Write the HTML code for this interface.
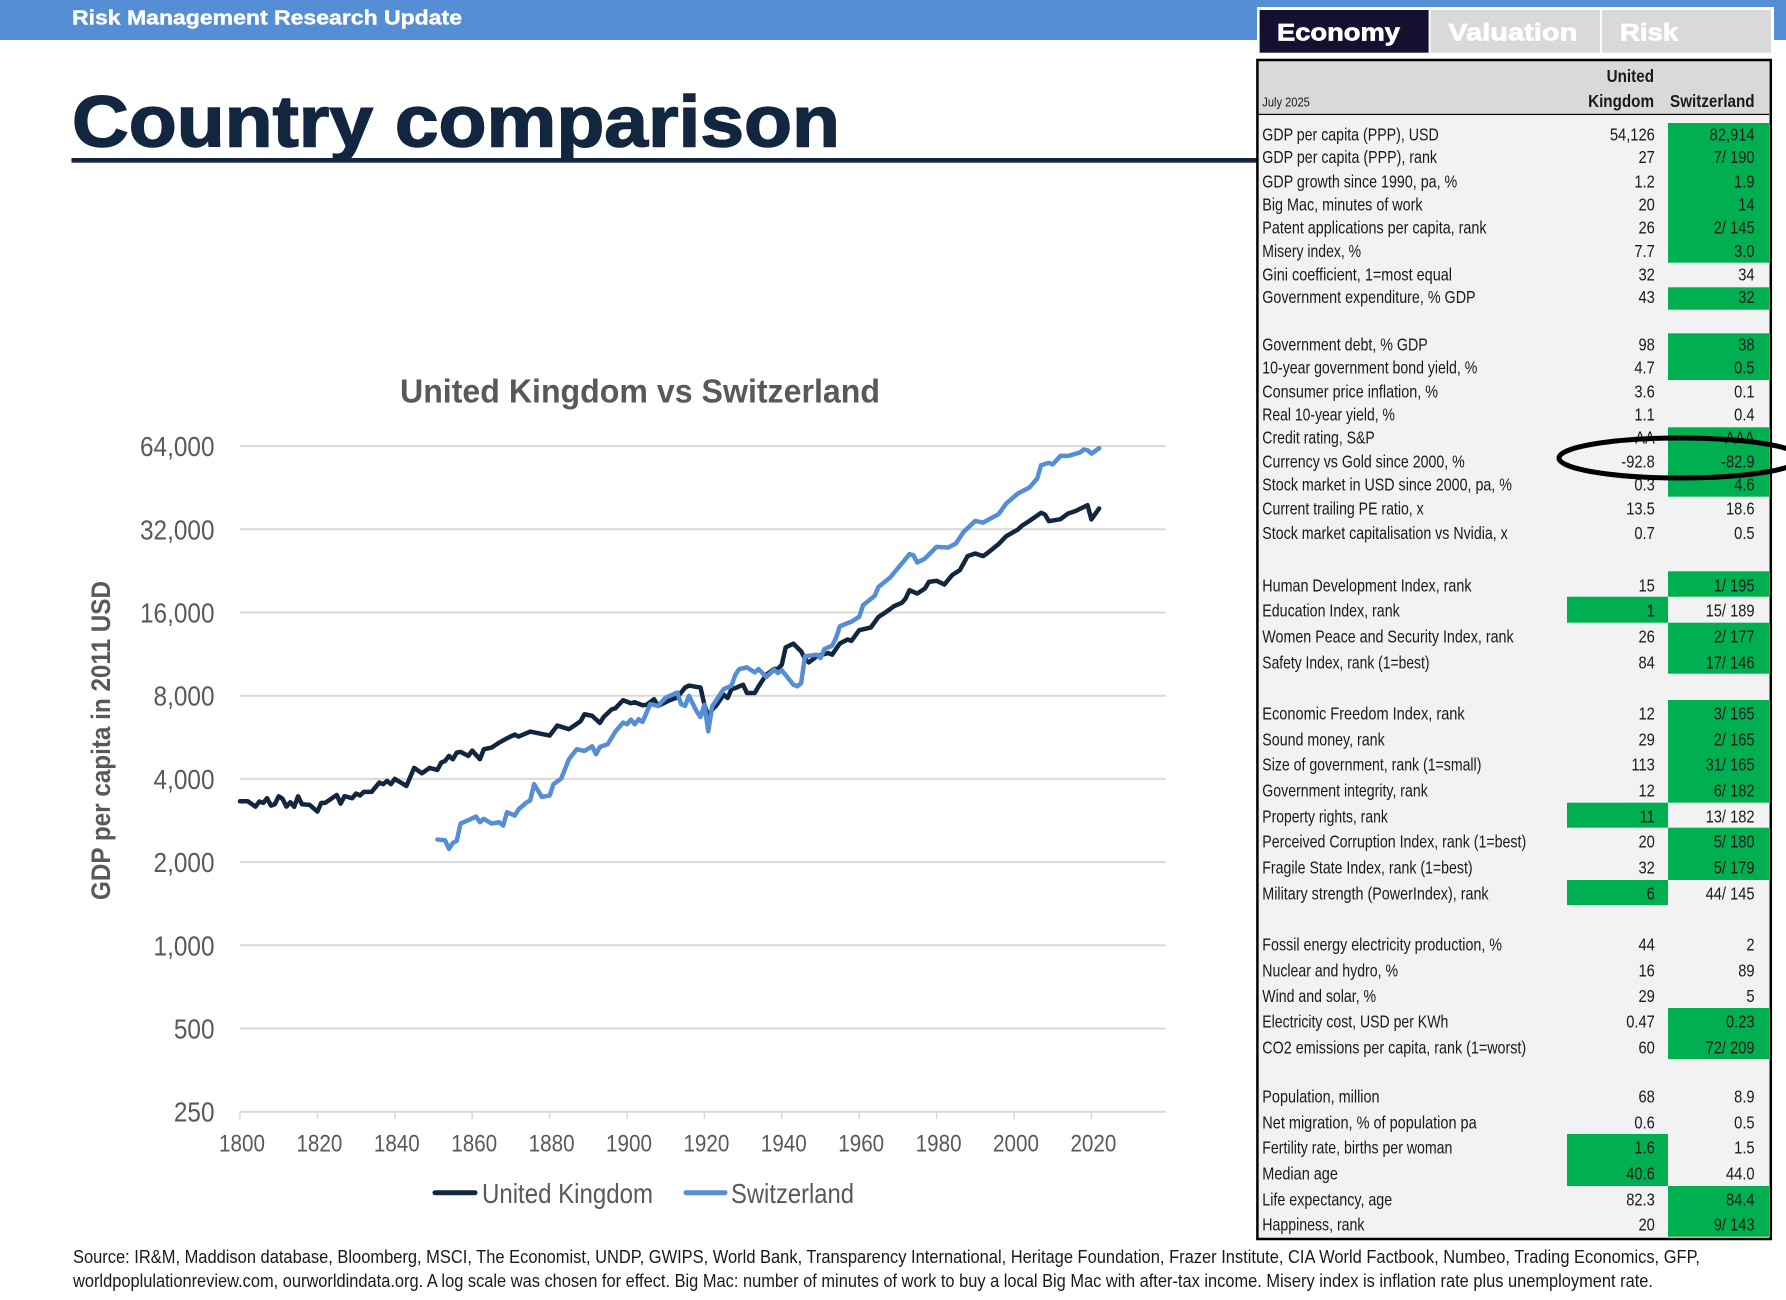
<!DOCTYPE html>
<html lang="en">
<head>
<meta charset="utf-8">
<title>Country comparison</title>
<style>
html,body{margin:0;padding:0;background:#fff;width:1786px;height:1300px;overflow:hidden}
svg{display:block;font-family:"Liberation Sans",Arial,sans-serif}
.lb,.v{font-size:17.5px;fill:#1a1a1a}
.ax{fill:#595959}
</style>
</head>
<body>
<svg id="page" xmlns="http://www.w3.org/2000/svg" width="1786" height="1300" viewBox="0 0 1786 1300">
<rect x="0" y="0" width="1786" height="40" fill="#558ed5"/>
<text x="72" y="24.5" font-size="20" font-weight="bold" fill="#fff" stroke="#fff" stroke-width=".4" textLength="390" lengthAdjust="spacingAndGlyphs">Risk Management Research Update</text>
<text x="72" y="146.5" font-size="72" font-weight="bold" fill="#12263f" stroke="#12263f" stroke-width="1.5" textLength="768" lengthAdjust="spacingAndGlyphs">Country comparison</text>
<rect x="71.5" y="158" width="1185.5" height="4.7" fill="#12263f"/>

<g id="chart">
<text x="400" y="402.7" font-size="33" font-weight="bold" fill="#595959" textLength="480" lengthAdjust="spacingAndGlyphs">United Kingdom vs Switzerland</text>
<text transform="translate(110,900) rotate(-90)" x="0" y="0" font-size="27" font-weight="bold" fill="#595959" textLength="319" lengthAdjust="spacingAndGlyphs">GDP per capita in 2011 USD</text>
<g id="grid"></g>
<g id="xaxis"></g>
<g id="yaxis"></g>
<g id="series"></g>
<g>
<line x1="435" y1="1192.7" x2="475" y2="1192.7" stroke="#12263f" stroke-width="5" stroke-linecap="round"/>
<text x="482" y="1203" font-size="28" class="ax" textLength="171" lengthAdjust="spacingAndGlyphs">United Kingdom</text>
<line x1="686" y1="1192.7" x2="725" y2="1192.7" stroke="#558ed5" stroke-width="5" stroke-linecap="round"/>
<text x="731" y="1203" font-size="28" class="ax" textLength="123" lengthAdjust="spacingAndGlyphs">Switzerland</text>
</g>
</g>

<g>
<rect x="1257" y="7" width="517" height="47.5" fill="#fff"/>
<rect x="1259.6" y="10" width="169" height="42.7" fill="#13112f"/>
<text x="1277" y="40.7" font-size="24" font-weight="bold" fill="#fff" stroke="#fff" stroke-width=".7" textLength="123" lengthAdjust="spacingAndGlyphs">Economy</text>
<rect x="1430.5" y="10" width="169.5" height="42.7" fill="#d9d9d9"/>
<text x="1448.3" y="40.7" font-size="24" font-weight="bold" fill="#fff" stroke="#fff" stroke-width=".7" textLength="129" lengthAdjust="spacingAndGlyphs">Valuation</text>
<rect x="1602" y="10" width="169" height="42.7" fill="#d9d9d9"/>
<text x="1620" y="40.7" font-size="24" font-weight="bold" fill="#fff" stroke="#fff" stroke-width=".7" textLength="58" lengthAdjust="spacingAndGlyphs">Risk</text>
</g>

<g>
<rect x="1257.4" y="60" width="513.4" height="1179" fill="#f2f2f2"/>
<rect x="1258" y="60" width="511" height="54" fill="#d9d9d9"/>
<rect x="1258" y="113.8" width="511" height="1.2" fill="#000"/>

<g fill="#00b050">
<rect x="1668" y="123" width="101" height="139.7"/>
<rect x="1668" y="287.3" width="101" height="22.4"/>
<rect x="1668" y="333.3" width="101" height="46.7"/>
<rect x="1668" y="427.3" width="101" height="69.4"/>
<rect x="1668" y="571.3" width="101" height="25.4"/>
<rect x="1567" y="596.7" width="101" height="26"/>
<rect x="1668" y="622.7" width="101" height="51"/>
<rect x="1668" y="700" width="101" height="102.7"/>
<rect x="1567" y="802.7" width="101" height="25"/>
<rect x="1668" y="827.7" width="101" height="52.3"/>
<rect x="1567" y="880" width="101" height="25"/>
<rect x="1668" y="1008" width="101" height="51"/>
<rect x="1567" y="1134" width="101" height="52"/>
<rect x="1668" y="1186" width="101" height="50.7"/>
</g>

<text x="1262.3" y="106.5" font-size="13" fill="#1a1a1a" textLength="47.5" lengthAdjust="spacingAndGlyphs">July 2025</text>
<text x="1654" y="82" font-size="17.5" font-weight="bold" fill="#1a1a1a" text-anchor="end" transform="translate(1654,0) scale(.87,1) translate(-1654,0)">United</text>
<text x="1654" y="107" font-size="17.5" font-weight="bold" fill="#1a1a1a" text-anchor="end" transform="translate(1654,0) scale(.87,1) translate(-1654,0)">Kingdom</text>
<text x="1754.6" y="107" font-size="17.5" font-weight="bold" fill="#1a1a1a" text-anchor="end" transform="translate(1754.6,0) scale(.87,1) translate(-1754.6,0)">Switzerland</text>

<g>
<text class="lb" x="1262.3" y="140.3" textLength="176.4" lengthAdjust="spacingAndGlyphs">GDP per capita (PPP), USD</text>
<text class="lb" x="1262.3" y="163" textLength="174.7" lengthAdjust="spacingAndGlyphs">GDP per capita (PPP), rank</text>
<text class="lb" x="1262.3" y="187.3" textLength="194.9" lengthAdjust="spacingAndGlyphs">GDP growth since 1990, pa, %</text>
<text class="lb" x="1262.3" y="210.3" textLength="160.3" lengthAdjust="spacingAndGlyphs">Big Mac, minutes of work</text>
<text class="lb" x="1262.3" y="233.6" textLength="224.3" lengthAdjust="spacingAndGlyphs">Patent applications per capita, rank</text>
<text class="lb" x="1262.3" y="257" textLength="98.8" lengthAdjust="spacingAndGlyphs">Misery index, %</text>
<text class="lb" x="1262.3" y="280.3" textLength="189.7" lengthAdjust="spacingAndGlyphs">Gini coefficient, 1=most equal</text>
<text class="lb" x="1262.3" y="303" textLength="213.3" lengthAdjust="spacingAndGlyphs">Government expenditure, % GDP</text>
<text class="lb" x="1262.3" y="350.3" textLength="165.5" lengthAdjust="spacingAndGlyphs">Government debt, % GDP</text>
<text class="lb" x="1262.3" y="373.6" textLength="215" lengthAdjust="spacingAndGlyphs">10-year government bond yield, %</text>
<text class="lb" x="1262.3" y="397.3" textLength="175.7" lengthAdjust="spacingAndGlyphs">Consumer price inflation, %</text>
<text class="lb" x="1262.3" y="420.6" textLength="132.6" lengthAdjust="spacingAndGlyphs">Real 10-year yield, %</text>
<text class="lb" x="1262.3" y="443.6" textLength="112.5" lengthAdjust="spacingAndGlyphs">Credit rating, S&amp;P</text>
<text class="lb" x="1262.3" y="467.3" textLength="202.4" lengthAdjust="spacingAndGlyphs">Currency vs Gold since 2000, %</text>
<text class="lb" x="1262.3" y="490.3" textLength="249.6" lengthAdjust="spacingAndGlyphs">Stock market in USD since 2000, pa, %</text>
<text class="lb" x="1262.3" y="514.6" textLength="161.4" lengthAdjust="spacingAndGlyphs">Current trailing PE ratio, x</text>
<text class="lb" x="1262.3" y="539" textLength="245.5" lengthAdjust="spacingAndGlyphs">Stock market capitalisation vs Nvidia, x</text>
<text class="lb" x="1262.3" y="591.3" textLength="209.2" lengthAdjust="spacingAndGlyphs">Human Development Index, rank</text>
<text class="lb" x="1262.3" y="616.3" textLength="137.4" lengthAdjust="spacingAndGlyphs">Education Index, rank</text>
<text class="lb" x="1262.3" y="642.3" textLength="251.3" lengthAdjust="spacingAndGlyphs">Women Peace and Security Index, rank</text>
<text class="lb" x="1262.3" y="668.3" textLength="167.2" lengthAdjust="spacingAndGlyphs">Safety Index, rank (1=best)</text>
<text class="lb" x="1262.3" y="719.6" textLength="202.4" lengthAdjust="spacingAndGlyphs">Economic Freedom Index, rank</text>
<text class="lb" x="1262.3" y="745.3" textLength="122.4" lengthAdjust="spacingAndGlyphs">Sound money, rank</text>
<text class="lb" x="1262.3" y="770.6" textLength="219.1" lengthAdjust="spacingAndGlyphs">Size of government, rank (1=small)</text>
<text class="lb" x="1262.3" y="796.3" textLength="165.5" lengthAdjust="spacingAndGlyphs">Government integrity, rank</text>
<text class="lb" x="1262.3" y="822.3" textLength="125.5" lengthAdjust="spacingAndGlyphs">Property rights, rank</text>
<text class="lb" x="1262.3" y="847.6" textLength="263.9" lengthAdjust="spacingAndGlyphs">Perceived Corruption Index, rank (1=best)</text>
<text class="lb" x="1262.3" y="873.3" textLength="210.3" lengthAdjust="spacingAndGlyphs">Fragile State Index, rank (1=best)</text>
<text class="lb" x="1262.3" y="899.3" textLength="226.3" lengthAdjust="spacingAndGlyphs">Military strength (PowerIndex), rank</text>
<text class="lb" x="1262.3" y="950.3" textLength="239.7" lengthAdjust="spacingAndGlyphs">Fossil energy electricity production, %</text>
<text class="lb" x="1262.3" y="976.3" textLength="135.7" lengthAdjust="spacingAndGlyphs">Nuclear and hydro, %</text>
<text class="lb" x="1262.3" y="1002" textLength="113.8" lengthAdjust="spacingAndGlyphs">Wind and solar, %</text>
<text class="lb" x="1262.3" y="1027.3" textLength="186" lengthAdjust="spacingAndGlyphs">Electricity cost, USD per KWh</text>
<text class="lb" x="1262.3" y="1053.3" textLength="263.9" lengthAdjust="spacingAndGlyphs">CO2 emissions per capita, rank (1=worst)</text>
<text class="lb" x="1262.3" y="1102.3" textLength="117.3" lengthAdjust="spacingAndGlyphs">Population, million</text>
<text class="lb" x="1262.3" y="1128.3" textLength="214.4" lengthAdjust="spacingAndGlyphs">Net migration, % of population pa</text>
<text class="lb" x="1262.3" y="1153.6" textLength="190.1" lengthAdjust="spacingAndGlyphs">Fertility rate, births per woman</text>
<text class="lb" x="1262.3" y="1179.6" textLength="75.6" lengthAdjust="spacingAndGlyphs">Median age</text>
<text class="lb" x="1262.3" y="1205.3" textLength="129.9" lengthAdjust="spacingAndGlyphs">Life expectancy, age</text>
<text class="lb" x="1262.3" y="1230.3" textLength="102.2" lengthAdjust="spacingAndGlyphs">Happiness, rank</text>
</g>

<g transform="translate(1654.8,0) scale(.84,1)" text-anchor="end">
<text class="v" y="140.3">54,126</text>
<text class="v" y="163">27</text>
<text class="v" y="187.3">1.2</text>
<text class="v" y="210.3">20</text>
<text class="v" y="233.6">26</text>
<text class="v" y="257">7.7</text>
<text class="v" y="280.3">32</text>
<text class="v" y="303">43</text>
<text class="v" y="350.3">98</text>
<text class="v" y="373.6">4.7</text>
<text class="v" y="397.3">3.6</text>
<text class="v" y="420.6">1.1</text>
<text class="v" y="443.6">AA</text>
<text class="v" y="467.3">-92.8</text>
<text class="v" y="490.3">0.3</text>
<text class="v" y="514.6">13.5</text>
<text class="v" y="539">0.7</text>
<text class="v" y="591.3">15</text>
<text class="v" y="616.3">1</text>
<text class="v" y="642.3">26</text>
<text class="v" y="668.3">84</text>
<text class="v" y="719.6">12</text>
<text class="v" y="745.3">29</text>
<text class="v" y="770.6">113</text>
<text class="v" y="796.3">12</text>
<text class="v" y="822.3">11</text>
<text class="v" y="847.6">20</text>
<text class="v" y="873.3">32</text>
<text class="v" y="899.3">6</text>
<text class="v" y="950.3">44</text>
<text class="v" y="976.3">16</text>
<text class="v" y="1002">29</text>
<text class="v" y="1027.3">0.47</text>
<text class="v" y="1053.3">60</text>
<text class="v" y="1102.3">68</text>
<text class="v" y="1128.3">0.6</text>
<text class="v" y="1153.6">1.6</text>
<text class="v" y="1179.6">40.6</text>
<text class="v" y="1205.3">82.3</text>
<text class="v" y="1230.3">20</text>
</g>

<g transform="translate(1754.6,0) scale(.84,1)" text-anchor="end">
<text class="v" y="140.3">82,914</text>
<text class="v" y="163">7/ 190</text>
<text class="v" y="187.3">1.9</text>
<text class="v" y="210.3">14</text>
<text class="v" y="233.6">2/ 145</text>
<text class="v" y="257">3.0</text>
<text class="v" y="280.3">34</text>
<text class="v" y="303">32</text>
<text class="v" y="350.3">38</text>
<text class="v" y="373.6">0.5</text>
<text class="v" y="397.3">0.1</text>
<text class="v" y="420.6">0.4</text>
<text class="v" y="443.6">AAA</text>
<text class="v" y="467.3">-82.9</text>
<text class="v" y="490.3">4.6</text>
<text class="v" y="514.6">18.6</text>
<text class="v" y="539">0.5</text>
<text class="v" y="591.3">1/ 195</text>
<text class="v" y="616.3">15/ 189</text>
<text class="v" y="642.3">2/ 177</text>
<text class="v" y="668.3">17/ 146</text>
<text class="v" y="719.6">3/ 165</text>
<text class="v" y="745.3">2/ 165</text>
<text class="v" y="770.6">31/ 165</text>
<text class="v" y="796.3">6/ 182</text>
<text class="v" y="822.3">13/ 182</text>
<text class="v" y="847.6">5/ 180</text>
<text class="v" y="873.3">5/ 179</text>
<text class="v" y="899.3">44/ 145</text>
<text class="v" y="950.3">2</text>
<text class="v" y="976.3">89</text>
<text class="v" y="1002">5</text>
<text class="v" y="1027.3">0.23</text>
<text class="v" y="1053.3">72/ 209</text>
<text class="v" y="1102.3">8.9</text>
<text class="v" y="1128.3">0.5</text>
<text class="v" y="1153.6">1.5</text>
<text class="v" y="1179.6">44.0</text>
<text class="v" y="1205.3">84.4</text>
<text class="v" y="1230.3">9/ 143</text>
</g>

<rect x="1257.4" y="60" width="513.4" height="1179" fill="none" stroke="#000" stroke-width="2.5"/>
</g>

<ellipse cx="1680" cy="458" rx="121" ry="20" fill="none" stroke="#000" stroke-width="5"/>

<text x="73" y="1263" font-size="18" fill="#1a1a1a" textLength="1627" lengthAdjust="spacingAndGlyphs">Source: IR&amp;M, Maddison database, Bloomberg, MSCI, The Economist, UNDP, GWIPS, World Bank, Transparency International, Heritage Foundation, Frazer Institute, CIA World Factbook, Numbeo, Trading Economics, GFP,</text>
<text x="73" y="1287" font-size="18" fill="#1a1a1a" textLength="1580" lengthAdjust="spacingAndGlyphs">worldpoplulationreview.com, ourworldindata.org. A log scale was chosen for effect. Big Mac: number of minutes of work to buy a local Big Mac with after-tax income. Misery index is inflation rate plus unemployment rate.</text>
</svg>

<script>
const ukYears = [1800,1802,1804,1805,1806,1807,1808,1809,1810,1811,1812,1813,1814,1815,1816,1818,1820,1821,1822,1825,1826,1827,1829,1830,1831,1832,1834,1836,1837,1838,1839,1840,1843,1845,1847,1849,1851,1852,1853,1854,1855,1856,1857,1859,1860,1862,1863,1865,1867,1869,1871,1872,1875,1880,1882,1885,1888,1889,1891,1893,1894,1896,1897,1899,1901,1902,1904,1905,1907,1908,1911,1913,1915,1916,1919,1920,1921,1922,1923,1925,1926,1927,1928,1930,1931,1933,1934,1935,1936,1938,1939,1940,1941,1943,1945,1946,1947,1949,1952,1953,1955,1957,1958,1960,1963,1965,1967,1969,1971,1972,1973,1975,1977,1978,1980,1982,1984,1986,1988,1990,1992,1993,1996,1998,2001,2002,2004,2007,2008,2009,2012,2014,2016,2019,2020,2022];
const ukValues = [3321,3321,3176,3312,3275,3405,3203,3239,3462,3386,3176,3294,3169,3462,3239,3221,3047,3275,3275,3500,3256,3462,3405,3540,3482,3590,3590,3880,3827,3934,3827,4000,3771,4384,4192,4384,4310,4583,4648,4845,4712,4979,5008,4845,5065,4712,5121,5192,5415,5613,5787,5691,5933,5739,6238,6052,6467,6855,6762,6378,6705,7129,7206,7703,7513,7577,7390,7410,7769,7347,7703,7878,8561,8704,8561,7421,6736,7119,7361,8067,7846,8456,8525,8768,8179,8179,8647,9086,9530,9989,9989,10358,11967,12338,11574,10858,10559,11107,11416,11258,12358,12778,12637,13811,14120,15432,16089,16864,17340,17986,19272,18736,19544,20650,20834,20200,21840,22765,25584,26160,25584,26160,28270,30220,31930,32930,34320,36720,36200,34240,34820,36510,37310,39130,34730,38060];
const chYears = [1851,1853,1854,1855,1856,1857,1859,1861,1862,1863,1865,1867,1868,1869,1871,1872,1874,1875,1876,1878,1880,1881,1883,1885,1887,1889,1891,1892,1893,1895,1897,1899,1900,1901,1902,1903,1904,1906,1908,1910,1911,1913,1914,1915,1916,1918,1919,1920,1921,1922,1924,1925,1927,1928,1929,1931,1933,1934,1936,1938,1939,1940,1943,1944,1945,1946,1949,1950,1951,1953,1954,1955,1957,1958,1960,1961,1964,1965,1968,1971,1973,1974,1975,1977,1980,1983,1985,1987,1990,1992,1996,1998,2001,2004,2006,2007,2009,2010,2012,2014,2017,2018,2019,2020,2022];
const chValues = [2413,2399,2232,2348,2386,2757,2835,2922,2787,2867,2757,2787,2711,3030,2947,3106,3284,3348,3827,3443,3482,3827,4011,4712,5121,5050,5251,4912,5222,5339,5933,6395,6306,6556,6306,6575,6430,7451,7347,7878,7986,8210,7451,7347,7986,7021,6696,7421,5945,7320,8067,8456,8696,9530,9989,10130,9717,9989,9346,9937,9664,9881,8768,8647,8887,11107,11258,10953,11800,12130,12938,14254,14650,14818,15432,17008,18384,19816,21424,24060,26010,25790,24260,25090,27650,27490,28430,31340,34320,33840,36300,39680,43120,45310,48900,54610,55680,54950,58970,58970,60650,62190,61840,60130,62880];
const yTickValues = [250,500,1000,2000,4000,8000,16000,32000,64000];
const yTickLabels = ['250','500','1,000','2,000','4,000','8,000','16,000','32,000','64,000'];
const xTickValues = [1800,1820,1840,1860,1880,1900,1920,1940,1960,1980,2000,2020];
const xTickLabels = ['1800','1820','1840','1860','1880','1900','1920','1940','1960','1980','2000','2020'];

const NS = 'http://www.w3.org/2000/svg';
const plotLeft = 240, plotRight = 1166, plotBottom = 1111.7;
function xScale(year) { return plotLeft + (year - 1800) * 3.87; }
function yScale(v) { return plotBottom - Math.log2(v / 250) * 83.2; }
function mk(tag, parent) {
  const el = document.createElementNS(NS, tag);
  parent.appendChild(el);
  return el;
}
const grid = document.getElementById('grid');
const xaxis = document.getElementById('xaxis');
const yaxis = document.getElementById('yaxis');
const seriesGroup = document.getElementById('series');

yTickValues.forEach(function (v, i) {
  const y = yScale(v);
  const ln = mk('line', grid);
  ln.setAttribute('x1', plotLeft);
  ln.setAttribute('x2', plotRight);
  ln.setAttribute('y1', y);
  ln.setAttribute('y2', y);
  ln.setAttribute('stroke', '#d9d9d9');
  ln.setAttribute('stroke-width', '2');
  
  
  const t = mk('text', yaxis);
  t.textContent = yTickLabels[i];
  t.setAttribute('class', 'ax');
  t.setAttribute('font-size', '28');
  t.setAttribute('text-anchor', 'end');
  t.setAttribute('transform', 'translate(214.5,' + (y + 10) + ') scale(.87,1)');
  
  
});

xTickValues.forEach(function (yr, i) {
  const x = xScale(yr);
  const tk = mk('line', xaxis);
  tk.setAttribute('x1', x);
  tk.setAttribute('x2', x);
  tk.setAttribute('y1', plotBottom);
  tk.setAttribute('y2', plotBottom + 7.5);
  tk.setAttribute('stroke', '#d9d9d9');
  tk.setAttribute('stroke-width', '1.5');
  
  
  const t = mk('text', xaxis);
  t.textContent = xTickLabels[i];
  t.setAttribute('class', 'ax');
  t.setAttribute('font-size', '24');
  t.setAttribute('text-anchor', 'middle');
  t.setAttribute('transform', 'translate(' + (x + 2) + ',1151.7) scale(.86,1)');
  
  
});

function linePath(years, values) {
  return years.map(function (yr, i) {
    return (i ? 'L' : 'M') + xScale(yr).toFixed(2) + ' ' + yScale(values[i]).toFixed(2);
  }).join(' ');
}
const ukLine = mk('path', seriesGroup);
ukLine.setAttribute('d', linePath(ukYears, ukValues));
ukLine.setAttribute('fill', 'none');
ukLine.setAttribute('stroke', '#12263f');
ukLine.setAttribute('stroke-width', '4.5');
ukLine.setAttribute('stroke-linejoin', 'round');
ukLine.setAttribute('stroke-linecap', 'round');


const chLine = mk('path', seriesGroup);
chLine.setAttribute('d', linePath(chYears, chValues));
chLine.setAttribute('fill', 'none');
chLine.setAttribute('stroke', '#558ed5');
chLine.setAttribute('stroke-width', '4.5');
chLine.setAttribute('stroke-linejoin', 'round');
chLine.setAttribute('stroke-linecap', 'round');


</script>
</body>
</html>
